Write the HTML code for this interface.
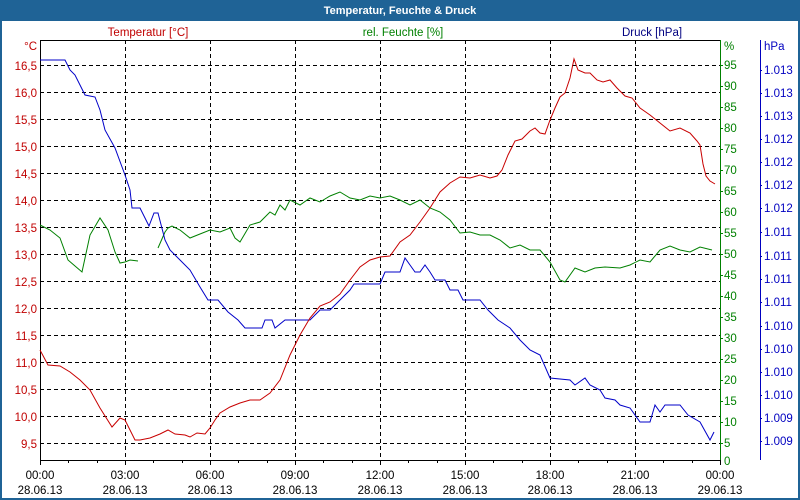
<!DOCTYPE html>
<html><head><meta charset="utf-8"><style>
html,body{margin:0;padding:0;background:#fff}
svg{display:block}
text{font-family:"Liberation Sans","DejaVu Sans",sans-serif;font-size:11.5px}
</style></head><body>
<svg width="800" height="500" viewBox="0 0 800 500" xmlns="http://www.w3.org/2000/svg">
<rect x="0" y="0" width="800" height="500" fill="#fff"/>
<rect x="1" y="1" width="798" height="498" fill="none" stroke="#1f6396" stroke-width="2"/>
<rect x="0" y="0" width="800" height="21" fill="#1f6396"/>
<text x="400" y="14" text-anchor="middle" fill="#fff" font-weight="bold" style="font-size:11px">Temperatur, Feuchte &amp; Druck</text>

<text x="148" y="36" text-anchor="middle" fill="#c00000">Temperatur [°C]</text>
<text x="403" y="36" text-anchor="middle" fill="#008000">rel. Feuchte [%]</text>
<text x="652" y="36" text-anchor="middle" fill="#000080">Druck [hPa]</text>

<g stroke="#000" stroke-width="1" stroke-dasharray="4,3">
<line x1="125.5" y1="40" x2="125.5" y2="460"/><line x1="210.5" y1="40" x2="210.5" y2="460"/>
<line x1="295.5" y1="40" x2="295.5" y2="460"/><line x1="380.5" y1="40" x2="380.5" y2="460"/>
<line x1="465.5" y1="40" x2="465.5" y2="460"/><line x1="550.5" y1="40" x2="550.5" y2="460"/>
<line x1="635.5" y1="40" x2="635.5" y2="460"/>
<line x1="40" y1="65.5" x2="720" y2="65.5"/><line x1="40" y1="92.5" x2="720" y2="92.5"/>
<line x1="40" y1="119.5" x2="720" y2="119.5"/><line x1="40" y1="146.5" x2="720" y2="146.5"/>
<line x1="40" y1="173.5" x2="720" y2="173.5"/><line x1="40" y1="200.5" x2="720" y2="200.5"/>
<line x1="40" y1="227.5" x2="720" y2="227.5"/><line x1="40" y1="254.5" x2="720" y2="254.5"/>
<line x1="40" y1="281.5" x2="720" y2="281.5"/><line x1="40" y1="308.5" x2="720" y2="308.5"/>
<line x1="40" y1="335.5" x2="720" y2="335.5"/><line x1="40" y1="362.5" x2="720" y2="362.5"/>
<line x1="40" y1="389.5" x2="720" y2="389.5"/><line x1="40" y1="416.5" x2="720" y2="416.5"/>
<line x1="40" y1="443.5" x2="720" y2="443.5"/>
</g>
<line x1="40" y1="40.5" x2="720" y2="40.5" stroke="#000"/>
<line x1="40.5" y1="40" x2="40.5" y2="461" stroke="#000"/>
<line x1="40" y1="460.5" x2="720" y2="460.5" stroke="#000"/>
<line x1="720.5" y1="40" x2="720.5" y2="461" stroke="#008000"/>
<line x1="760.5" y1="40" x2="760.5" y2="460" stroke="#0000c0"/>

<g stroke="#000">
<path d="M40.5 460v5M68.5 460v3M97.5 460v3M125.5 460v5M153.5 460v3M182.5 460v3M210.5 460v5M238.5 460v3M267.5 460v3M295.5 460v5M323.5 460v3M352.5 460v3M380.5 460v5M408.5 460v3M437.5 460v3M465.5 460v5M493.5 460v3M522.5 460v3M550.5 460v5M578.5 460v3M607.5 460v3M635.5 460v5M663.5 460v3M692.5 460v3M720.5 460v5"/>
</g>
<g fill="#000" text-anchor="middle">
<text x="40" y="479">00:00</text><text x="40" y="494">28.06.13</text>
<text x="125" y="479">03:00</text><text x="125" y="494">28.06.13</text>
<text x="210" y="479">06:00</text><text x="210" y="494">28.06.13</text>
<text x="295" y="479">09:00</text><text x="295" y="494">28.06.13</text>
<text x="380" y="479">12:00</text><text x="380" y="494">28.06.13</text>
<text x="465" y="479">15:00</text><text x="465" y="494">28.06.13</text>
<text x="550" y="479">18:00</text><text x="550" y="494">28.06.13</text>
<text x="635" y="479">21:00</text><text x="635" y="494">28.06.13</text>
<text x="720" y="479">00:00</text><text x="720" y="494">29.06.13</text>
</g>

<g fill="#c00000" text-anchor="end">
<text x="37" y="50">°C</text>
<text x="37" y="70">16,5</text><text x="37" y="97">16,0</text><text x="37" y="124">15,5</text>
<text x="37" y="151">15,0</text><text x="37" y="178">14,5</text><text x="37" y="205">14,0</text>
<text x="37" y="232">13,5</text><text x="37" y="259">13,0</text><text x="37" y="286">12,5</text>
<text x="37" y="313">12,0</text><text x="37" y="340">11,5</text><text x="37" y="367">11,0</text>
<text x="37" y="394">10,5</text><text x="37" y="421">10,0</text><text x="37" y="448">9,5</text>
</g>
<g fill="#008000">
<text x="724" y="50">%</text>
<text x="724" y="69">95</text><text x="724" y="90">90</text><text x="724" y="111">85</text>
<text x="724" y="132">80</text><text x="724" y="153">75</text><text x="724" y="174">70</text>
<text x="724" y="195">65</text><text x="724" y="216">60</text><text x="724" y="237">55</text>
<text x="724" y="258">50</text><text x="724" y="279">45</text><text x="724" y="300">40</text>
<text x="724" y="321">35</text><text x="724" y="342">30</text><text x="724" y="363">25</text>
<text x="724" y="384">20</text><text x="724" y="405">15</text><text x="724" y="426">10</text>
<text x="724" y="447">5</text><text x="724" y="465">0</text>
</g>
<g stroke="#008000"><path d="M720 65.5h3M720 86.5h3M720 107.5h3M720 128.5h3M720 149.5h3M720 170.5h3M720 191.5h3M720 212.5h3M720 233.5h3M720 254.5h3M720 275.5h3M720 296.5h3M720 317.5h3M720 338.5h3M720 359.5h3M720 380.5h3M720 401.5h3M720 422.5h3M720 443.5h3"/></g>
<g fill="#0000c0">
<text x="764" y="50">hPa</text>
<text x="764" y="74">1.013</text><text x="764" y="97">1.013</text><text x="764" y="120">1.013</text>
<text x="764" y="143">1.012</text><text x="764" y="166">1.012</text><text x="764" y="189">1.012</text>
<text x="764" y="212">1.012</text><text x="764" y="236">1.011</text><text x="764" y="260">1.011</text>
<text x="764" y="283">1.011</text><text x="764" y="306">1.011</text><text x="764" y="330">1.010</text>
<text x="764" y="353">1.010</text><text x="764" y="376">1.010</text><text x="764" y="399">1.010</text>
<text x="764" y="422">1.009</text><text x="764" y="445">1.009</text>
</g>
<g stroke="#0000c0"><path d="M760 70.5h2M760 93.5h2M760 116.5h2M760 139.5h2M760 162.5h2M760 185.5h2M760 208.5h2M760 232.5h2M760 256.5h2M760 279.5h2M760 302.5h2M760 326.5h2M760 349.5h2M760 372.5h2M760 395.5h2M760 418.5h2M760 441.5h2"/></g>

<polyline fill="none" stroke="#008000" stroke-width="1" points="40,225 50,230 60,238 68,260 75,266 82,272 90,235 100,218 108,230 115,252 120,263 125,262 130,260 138,261"/>
<polyline fill="none" stroke="#008000" stroke-width="1" points="158,248 165,232 168,228 172,226 180,230 190,238 200,234 210,230 220,232 230,228 235,238 240,242 250,225 260,222 270,212 275,215 280,205 285,210 290,200 300,205 310,198 320,202 330,196 340,192 350,198 360,200 370,196 380,198 390,196 400,200 410,205 420,200 430,208 440,212 450,220 460,233 470,232 480,235 490,235 500,240 510,248 520,245 530,250 540,250 550,262 560,280 565,282 575,268 585,272 595,268 605,267 620,268 630,265 640,260 650,262 660,250 670,246 680,250 690,252 700,247 712,250"/>
<polyline fill="none" stroke="#0000c8" stroke-width="1" points="40,60 65,60 70,70 75,75 80,85 85,95 95,97 100,110 105,130 115,148 125,175 130,190 132,208 140,208 149,226 154,213 158,213 165,240 170,250 180,260 190,270 200,287 208,300 218,300 228,312 238,320 245,328 262,328 265,320 272,320 275,328 285,320 310,320 320,310 330,310 340,300 350,290 354,284 380,284 385,272 400,272 405,258 410,265 415,272 420,272 425,265 430,272 435,280 445,280 450,290 458,290 463,300 480,300 488,310 498,320 510,328 520,340 530,350 540,355 550,378 570,380 575,385 585,378 590,385 600,390 605,398 615,400 620,405 630,408 640,422 650,422 655,405 660,412 665,405 680,405 688,415 700,422 710,440 714,432"/>
<polyline fill="none" stroke="#c80000" stroke-width="1" points="40,350 48,365 60,366 70,372 80,380 90,390 100,408 112,427 120,418 125,420 130,430 135,440 140,440 150,438 160,434 168,430 175,434 185,435 190,437 197,433 205,434 210,428 215,420 220,413 230,407 240,403 250,400 260,400 270,393 280,380 290,355 300,335 310,318 320,306 330,302 340,294 350,280 360,267 370,260 380,257 390,256 400,242 410,235 420,222 430,208 440,192 450,183 460,177 470,178 480,175 490,178 497,176 502,170 508,155 515,141 522,139 530,131 535,128 540,133 545,134 550,120 555,108 560,97 565,93 570,78 574,59 578,70 585,73 590,73 597,80 603,82 610,80 617,88 625,96 632,98 640,108 650,115 660,123 670,131 680,128 690,133 697,141 700,145 703,164 706,176 710,181 715,184"/>
</svg>
</body></html>
